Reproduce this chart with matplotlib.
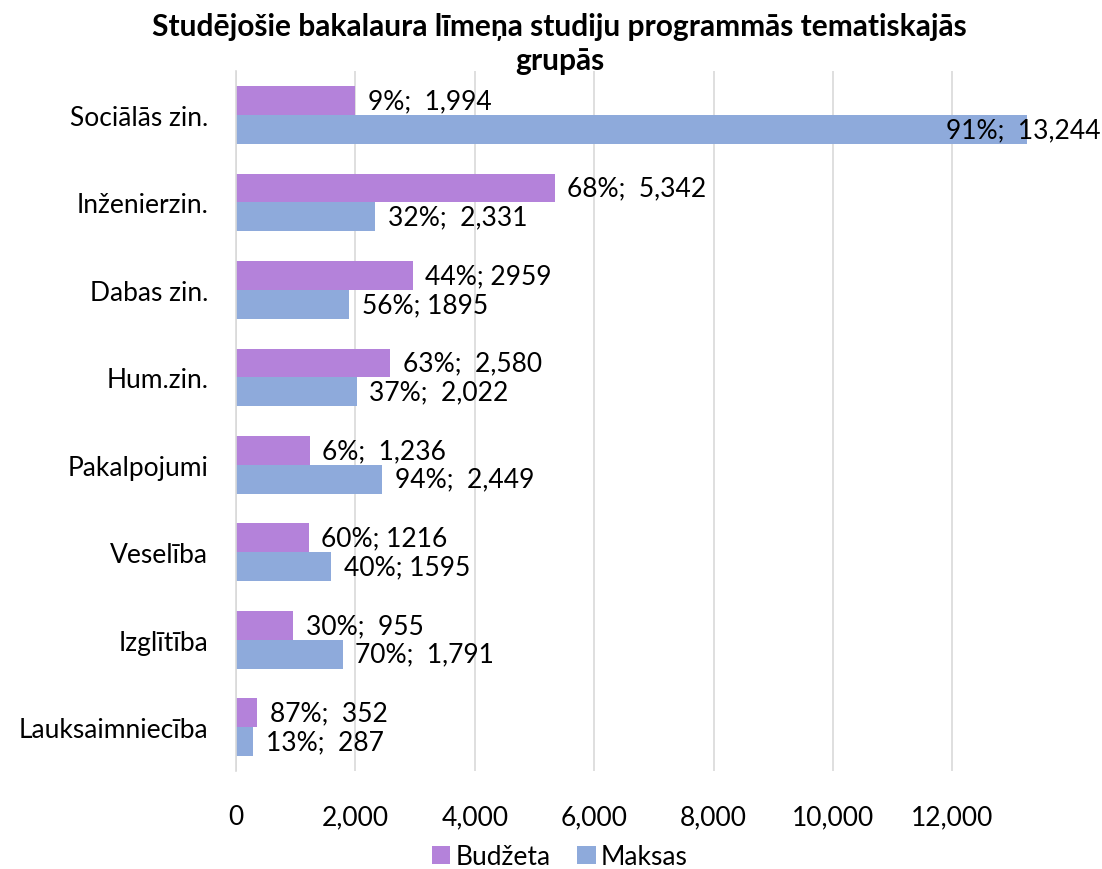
import matplotlib.pyplot as plt
import numpy as np

plt.rcParams["font.family"] = ["Lato", "DejaVu Sans"]

categories = ["Sociālās zin.", "Inženierzin.", "Dabas zin.", "Hum.zin.",
              "Pakalpojumi", "Veselība", "Izglītība", "Lauksaimniecība"]
budzeta = [1994, 5342, 2959, 2580, 1236, 1216, 955, 352]
maksas = [13244, 2331, 1895, 2022, 2449, 1595, 1791, 287]
budzeta_labels = ["9%;  1,994", "68%;  5,342", "44%; 2959", "63%;  2,580",
                  "6%;  1,236", "60%; 1216", "30%;  955", "87%;  352"]
maksas_labels = ["91%;  13,244", "32%;  2,331", "56%; 1895", "37%;  2,022",
                 "94%;  2,449", "40%; 1595", "70%;  1,791", "13%;  287"]

c_budz = "#B482DA"
c_maks = "#8EAADB"
fs = 19

fig = plt.figure(figsize=(11.02, 8.70), dpi=100)
ax = fig.add_axes([0.2142, 0.1126, 0.7205, 0.8044])

y = np.arange(len(categories))
h = 0.33
b1 = ax.barh(y - h / 2, budzeta, height=h, color=c_budz, label="Budžeta", zorder=2)
b2 = ax.barh(y + h / 2, maksas, height=h, color=c_maks, label="Maksas", zorder=2)

for rect, lab in zip(b1, budzeta_labels):
    ax.annotate(lab, (rect.get_width(), rect.get_y() + rect.get_height() / 2),
                xytext=(9, 0), textcoords="offset points",
                ha="left", va="center", fontsize=fs)
for i, (rect, lab) in enumerate(zip(b2, maksas_labels)):
    off = -58 if i == 0 else 9
    ax.annotate(lab, (rect.get_width(), rect.get_y() + rect.get_height() / 2),
                xytext=(off, 0), textcoords="offset points",
                ha="left", va="center", fontsize=fs)

ax.set_xlim(0, 13300)
ax.set_ylim(len(categories) - 0.5, -0.5)
ax.set_xticks(range(0, 12001, 2000))
ax.set_xticklabels([f"{v:,}" for v in range(0, 12001, 2000)])
ax.set_yticks(y)
ax.set_yticklabels(categories)
ax.tick_params(axis="x", length=0, pad=24, labelsize=fs)
ax.tick_params(axis="y", length=0, pad=20, labelsize=fs)
ax.grid(axis="x", color="#D9D9D9", linewidth=1.2, zorder=0)
for s in ["top", "right", "bottom"]:
    ax.spines[s].set_visible(False)
ax.spines["left"].set_color("#D9D9D9")
ax.spines["left"].set_linewidth(1.2)

fig.text(0.508, 0.985, "Studējošie bakalaura līmeņa studiju programmās tematiskajās\ngrupās",
         ha="center", va="top", fontsize=21.5, fontweight="bold", linespacing=1.25)

fig.legend(handles=[b1, b2], loc="center", bbox_to_anchor=(0.508, 0.014),
           ncol=2, frameon=False, fontsize=fs, handlelength=0.7, handleheight=0.7,
           handletextpad=0.2, columnspacing=1.0)

plt.savefig("out.png", dpi=100)
plt.close()
